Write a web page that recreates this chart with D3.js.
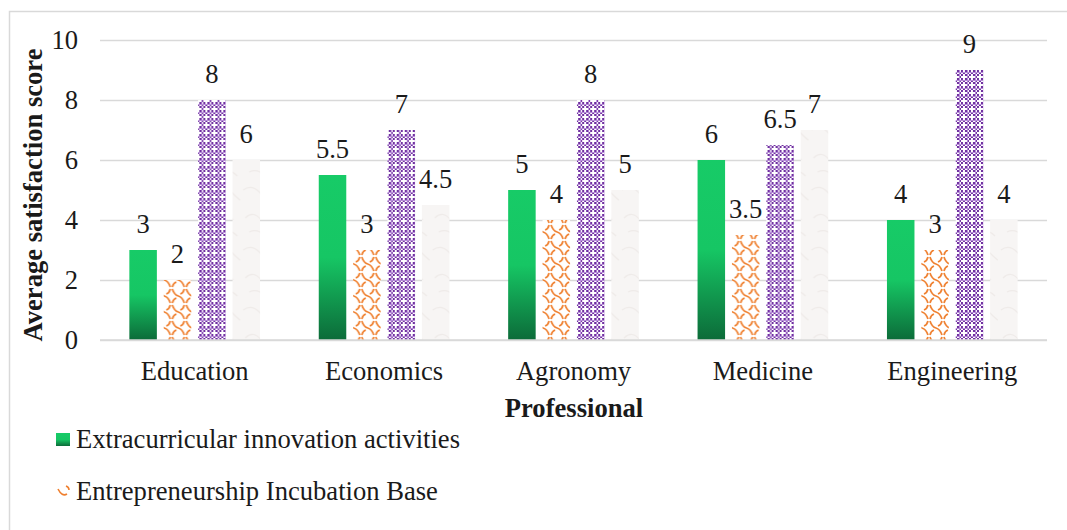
<!DOCTYPE html>
<html>
<head>
<meta charset="utf-8">
<script src="https://cdn.jsdelivr.net/npm/d3@7"></script>
<style>
  html, body { margin: 0; padding: 0; background: #fff; overflow: hidden; }
  svg { display: block; }
  svg text { font-family: "Liberation Serif", "Times New Roman", serif !important; }
</style>
</head>
<body>
<svg id="chart" width="1067" height="530"></svg>
<script>
// ---- data ----
const categories = ["Education", "Economics", "Agronomy", "Medicine", "Engineering"];
const seriesNames = ["Extracurricular innovation activities", "Entrepreneurship Incubation Base", "Series 3", "Series 4"];
const extracurricular = [3, 5.5, 5, 6, 4];
const incubationBase = [2, 3, 4, 3.5, 3];
const series3 = [8, 7, 8, 6.5, 9];
const series4 = [6, 4.5, 5, 7, 4];
const yTicks = [0, 2, 4, 6, 8, 10];
const legendNames = ["Extracurricular innovation activities", "Entrepreneurship Incubation Base"];

const seriesValues = [extracurricular, incubationBase, series3, series4];
const FS = 26.6;

const svg = d3.select("#chart");
const defs = svg.append("defs");

// green gradient
const grad = defs.append("linearGradient").attr("id", "gGreen")
  .attr("x1", 0).attr("y1", 0).attr("x2", 0).attr("y2", 1);
grad.append("stop").attr("offset", "0%").attr("stop-color", "#17cb67");
grad.append("stop").attr("offset", "50%").attr("stop-color", "#16c664");
grad.append("stop").attr("offset", "100%").attr("stop-color", "#0c6b39");

// orange scale pattern (sparse)
const pOr = defs.append("pattern").attr("id", "pOrange")
  .attr("patternUnits", "userSpaceOnUse").attr("width", 14).attr("height", 16);
pOr.append("rect").attr("width", 14).attr("height", 16).attr("fill", "#fff");
pOr.append("path")
  .attr("d", "M1,1 Q3,7 7,8 M7,8 Q11,9 13,15 M13,1 Q12,5 9,6 M1,15 Q2,11 5,10")
  .attr("fill", "none").attr("stroke", "#ef7f2e").attr("stroke-width", 1.7);

// purple checker pattern
const pPu = defs.append("pattern").attr("id", "pPurple")
  .attr("patternUnits", "userSpaceOnUse").attr("width", 8).attr("height", 8);
pPu.append("rect").attr("width", 8).attr("height", 8).attr("fill", "#ffffff");
for (let i = 0; i < 4; i++) for (let j = 0; j < 4; j++) {
  if ((i + j) % 2 === 0) pPu.append("rect").attr("x", i * 2).attr("y", j * 2)
    .attr("width", 2).attr("height", 2).attr("fill", "#7030a0");
}
pPu.append("rect").attr("x", 0).attr("y", 0).attr("width", 8).attr("height", 1).attr("fill", "#b48ad6");
pPu.append("rect").attr("x", 0).attr("y", 0).attr("width", 1).attr("height", 8).attr("fill", "#b48ad6");
pPu.append("rect").attr("x", 4).attr("y", 4).attr("width", 2).attr("height", 2).attr("fill", "#ffffff");

// white textured pattern
const pWh = defs.append("pattern").attr("id", "pWhite")
  .attr("patternUnits", "userSpaceOnUse").attr("width", 28).attr("height", 60);
pWh.append("rect").attr("width", 28).attr("height", 60).attr("fill", "#f7f5f4");
pWh.append("path").attr("d", "M2,10 Q10,4 18,12 T27,20 M4,38 Q12,30 20,40 M8,52 Q16,48 24,56")
  .attr("fill", "none").attr("stroke", "#efebe9").attr("stroke-width", 1.2);

const fills = ["url(#gGreen)", "url(#pOrange)", "url(#pPurple)", "url(#pWhite)"];

// frame
svg.append("rect").attr("x", 9.5).attr("y", 11.5).attr("width", 1080).attr("height", 540)
  .attr("fill", "none").attr("stroke", "#d9d9d9").attr("stroke-width", 1.5);

// scales
const y = d3.scaleLinear().domain([0, 10]).range([340, 40]);
const x0 = d3.scaleBand().domain(categories).range([100, 1047])
  .paddingInner(0.31).paddingOuter(0.155);
const x1 = d3.scaleBand().domain(d3.range(seriesValues.length)).range([0, x0.bandwidth()])
  .paddingInner(0.2).paddingOuter(0);

// gridlines
const yAxis = d3.axisLeft(y).tickValues(yTicks).tickSize(-(1047 - 100)).tickPadding(22).tickFormat(d3.format("d"));
const gy = svg.append("g").attr("transform", "translate(100,0)").call(yAxis);
gy.attr("font-family", null).attr("font-size", null);
gy.select(".domain").remove();
gy.selectAll(".tick line").attr("stroke", "#d9d9d9").attr("stroke-width", 1.5);
gy.selectAll(".tick text").attr("font-size", FS).attr("fill", "#1a1a1a");

// bars
const groups = svg.append("g").selectAll("g").data(categories).join("g")
  .attr("transform", d => `translate(${x0(d)},0)`);
groups.each(function (cat, ci) {
  const g = d3.select(this);
  seriesValues.forEach((vals, si) => {
    const v = vals[ci];
    g.append("rect")
      .attr("x", x1(si)).attr("width", x1.bandwidth())
      .attr("y", y(v)).attr("height", y(0) - y(v))
      .attr("fill", fills[si]);
    g.append("text")
      .attr("x", x1(si) + x1.bandwidth() / 2)
      .attr("y", y(v) - 17)
      .attr("text-anchor", "middle")
      .attr("font-size", FS).attr("fill", "#1a1a1a")
      .text(v);
  });
});

// x axis
const xAxis = d3.axisBottom(x0).tickSize(0).tickPadding(21);
const gx = svg.append("g").attr("transform", `translate(0,${y(0)})`).call(xAxis);
gx.attr("font-family", null).attr("font-size", null);
gx.select(".domain").attr("stroke", "#d9d9d9").attr("stroke-width", 1.5)
  .attr("d", "M100,0H1047");
gx.selectAll(".tick text").attr("font-size", FS).attr("fill", "#1a1a1a");

// axis titles
svg.append("text").attr("x", 574).attr("y", 417).attr("text-anchor", "middle")
  .attr("font-size", FS).attr("font-weight", "bold").attr("fill", "#1a1a1a").text("Professional");
svg.append("text").attr("transform", "translate(42,195) rotate(-90)").attr("text-anchor", "middle")
  .attr("font-size", FS).attr("font-weight", "bold").attr("fill", "#1a1a1a").text("Average satisfaction score");

// legend
const legY = [448, 500];
svg.append("rect").attr("x", 56).attr("y", legY[0] - 15).attr("width", 14).attr("height", 13)
  .attr("fill", fills[0]);
svg.append("path").attr("d", `M58,${legY[1] - 11} Q62,${legY[1] - 3} 67,${legY[1] - 6} M66,${legY[1] - 14} Q69,${legY[1] - 13} 69,${legY[1] - 10}`)
  .attr("fill", "none").attr("stroke", "#ef7f2e").attr("stroke-width", 1.6);
legendNames.forEach((name, i) => {
  svg.append("text").attr("x", 76).attr("y", legY[i]).attr("font-size", FS)
    .attr("fill", "#1a1a1a").text(name);
});
</script>
</body>
</html>
